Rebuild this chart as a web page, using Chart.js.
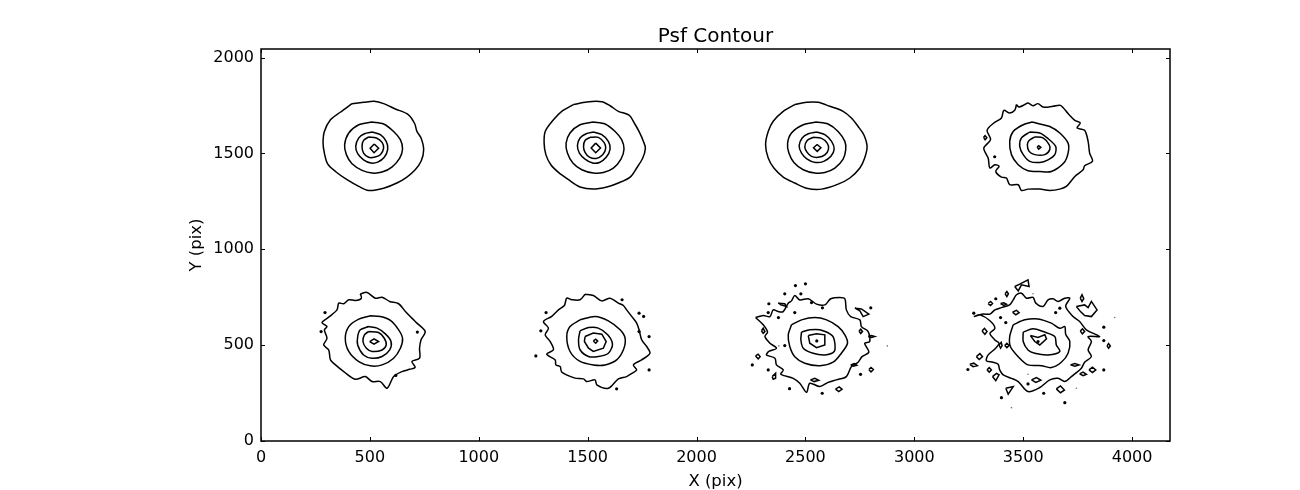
<!DOCTYPE html>
<html>
<head>
<meta charset="utf-8">
<title>Psf Contour</title>
<script src="https://cdn.jsdelivr.net/npm/chart.js@4/dist/chart.umd.min.js"></script>
<style>
  html, body { margin: 0; padding: 0; background: #fff; }
  canvas { display: block; }
</style>
</head>
<body>
<canvas id="myChart" width="1300" height="490"></canvas>
<script>
// axis ticks and limits
var xTicks = [0, 500, 1000, 1500, 2000, 2500, 3000, 3500, 4000];
var yTicks = [0, 500, 1000, 1500, 2000];
var xMax = 4174;
var yMax = 2045;

// contours, [x, y] in pix, one panel at a time
var p1a = [[418,1760],[472,1767],[520,1772],[563,1760],[617,1732],[676,1703],[706,1655],[716,1615],[735,1581],[747,1520],[735,1459],[708,1415],[670,1377],[624,1346],[563,1319],[494,1307],[449,1328],[395,1363],[342,1406],[306,1446],[291,1502],[285,1554],[291,1615],[319,1676],[364,1715]];
var p1b = [[510,1664],[563,1654],[609,1615],[640,1572],[650,1523],[637,1476],[601,1429],[556,1403],[510,1398],[464,1412],[418,1446],[392,1494],[384,1546],[403,1607],[449,1650]];
var p1c = [[510,1612],[548,1598],[575,1563],[582,1523],[566,1480],[536,1455],[505,1450],[471,1467],[444,1499],[435,1537],[449,1581],[475,1603]];
var p1d = [[494,1586],[530,1581],[556,1558],[563,1528],[548,1493],[520,1480],[494,1480],[471,1502],[464,1537],[471,1568]];
var p1e = [[520,1549],[540,1527],[519,1504],[501,1527]];

var p2a = [[1435,1755],[1496,1769],[1565,1770],[1603,1749],[1641,1720],[1690,1700],[1716,1655],[1738,1610],[1756,1563],[1765,1528],[1753,1476],[1725,1424],[1695,1377],[1641,1346],[1588,1325],[1526,1314],[1465,1325],[1412,1363],[1366,1401],[1331,1441],[1308,1494],[1300,1554],[1305,1615],[1343,1676],[1381,1720]];
var p2b = [[1526,1664],[1580,1654],[1626,1615],[1656,1572],[1667,1523],[1653,1471],[1618,1424],[1572,1401],[1526,1398],[1473,1415],[1432,1450],[1407,1502],[1401,1554],[1419,1607],[1465,1650]];
var p2c = [[1526,1612],[1565,1598],[1595,1563],[1603,1523],[1585,1480],[1554,1453],[1523,1450],[1488,1471],[1462,1502],[1453,1541],[1465,1581],[1493,1603]];
var p2d = [[1511,1584],[1549,1584],[1575,1558],[1583,1528],[1569,1493],[1539,1474],[1508,1481],[1488,1506],[1481,1537],[1488,1568]];
var p2e = [[1537,1554],[1559,1528],[1537,1504],[1516,1528]];

var p3a = [[2451,1755],[2505,1767],[2558,1767],[2612,1746],[2673,1720],[2711,1685],[2742,1641],[2768,1598],[2783,1537],[2772,1476],[2750,1424],[2704,1372],[2650,1340],[2574,1314],[2505,1319],[2451,1346],[2398,1377],[2355,1424],[2329,1476],[2317,1546],[2329,1615],[2352,1668],[2398,1720]];
var p3b = [[2551,1664],[2604,1654],[2650,1615],[2681,1563],[2685,1520],[2673,1471],[2635,1424],[2589,1401],[2543,1398],[2490,1415],[2447,1453],[2424,1502],[2418,1554],[2436,1607],[2490,1650]];
var p3c = [[2551,1612],[2589,1598],[2620,1563],[2632,1523],[2617,1485],[2584,1459],[2546,1453],[2508,1471],[2482,1502],[2471,1541],[2485,1581],[2513,1603]];
var p3d = [[2535,1584],[2574,1579],[2600,1554],[2606,1523],[2589,1493],[2558,1480],[2528,1485],[2508,1506],[2497,1534],[2508,1568]];
var p3e = [[2554,1547],[2571,1530],[2554,1511],[2537,1530]];

var p4a = [[3469,1755],[3481,1742],[3507,1755],[3522,1763],[3545,1749],[3568,1760],[3591,1742],[3637,1746],[3671,1751],[3706,1708],[3737,1673],[3762,1659],[3747,1633],[3782,1621],[3798,1563],[3805,1502],[3818,1459],[3782,1436],[3775,1415],[3737,1380],[3698,1328],[3668,1314],[3622,1307],[3576,1314],[3522,1314],[3492,1307],[3477,1337],[3438,1337],[3423,1372],[3400,1377],[3374,1406],[3389,1433],[3370,1441],[3347,1424],[3339,1476],[3319,1528],[3350,1572],[3334,1621],[3365,1659],[3400,1685],[3411,1725],[3438,1711],[3461,1725]];
var p4b = [[3542,1664],[3576,1654],[3622,1641],[3668,1607],[3706,1554],[3706,1502],[3686,1450],[3629,1406],[3576,1406],[3522,1410],[3477,1441],[3446,1494],[3438,1563],[3454,1615],[3500,1650]];
var p4c = [[3530,1612],[3576,1607],[3610,1581],[3649,1537],[3645,1494],[3614,1467],[3576,1453],[3530,1459],[3500,1494],[3484,1537],[3492,1581]];
var p4d = [[3553,1586],[3591,1581],[3619,1546],[3622,1520],[3599,1494],[3553,1494],[3527,1511],[3519,1546],[3527,1568]];
var p4e = [[3564,1534],[3571,1541],[3581,1532],[3571,1523]];
var p4f = [[3318,1584],[3325,1593],[3333,1582],[3325,1572]];

var p5a = [[456,768],[487,775],[525,745],[556,750],[591,728],[632,716],[663,676],[693,641],[716,615],[754,571],[735,528],[728,484],[728,432],[693,415],[708,385],[683,374],[647,362],[609,336],[579,275],[548,310],[510,310],[479,336],[433,322],[380,362],[342,397],[319,423],[311,475],[288,501],[303,536],[291,580],[303,597],[280,618],[311,646],[349,684],[357,719],[380,716],[403,737],[433,733],[461,745]];
var p5b = [[502,653],[548,649],[594,629],[632,580],[650,536],[640,484],[609,432],[556,397],[502,392],[449,414],[403,467],[387,536],[403,597],[449,636]];
var p5c = [[494,597],[533,589],[571,559],[597,519],[591,475],[556,441],[510,432],[471,449],[444,501],[444,545],[456,580]];
var p5d = [[494,571],[540,566],[566,536],[575,501],[556,475],[510,467],[484,484],[468,519],[475,554]];
var p5e = [[499,519],[519,533],[540,519],[519,505]];

var p6a = [[1488,766],[1526,759],[1565,731],[1603,745],[1641,719],[1664,707],[1679,684],[1702,650],[1725,615],[1736,580],[1748,528],[1771,493],[1786,458],[1748,423],[1710,397],[1725,371],[1705,354],[1679,336],[1641,324],[1595,275],[1542,293],[1534,319],[1496,310],[1481,324],[1442,328],[1381,359],[1374,388],[1354,397],[1351,423],[1312,453],[1343,476],[1328,519],[1305,554],[1320,589],[1297,623],[1335,650],[1366,684],[1393,707],[1404,745],[1427,737],[1465,737]];
var p6b = [[1465,632],[1534,650],[1595,627],[1649,580],[1672,536],[1664,476],[1633,423],[1580,397],[1526,397],[1465,415],[1419,467],[1404,545],[1419,597]];
var p6c = [[1465,575],[1504,592],[1549,589],[1592,554],[1614,505],[1595,458],[1549,441],[1504,441],[1465,476],[1458,528]];
var p6d = [[1488,545],[1526,563],[1565,557],[1585,519],[1572,484],[1526,467],[1504,484],[1485,519]];
var p6e = [[1526,522],[1537,531],[1546,521],[1537,510]];

var p7a = [[2271,644],[2306,655],[2337,649],[2352,684],[2375,675],[2398,675],[2421,719],[2436,731],[2451,759],[2474,736],[2513,742],[2551,714],[2589,710],[2616,742],[2658,749],[2681,742],[2688,684],[2708,649],[2750,632],[2757,597],[2788,571],[2795,519],[2772,510],[2791,463],[2760,440],[2742,411],[2711,388],[2688,336],[2642,319],[2604,306],[2566,284],[2520,301],[2505,254],[2474,301],[2444,327],[2387,348],[2398,371],[2367,397],[2360,432],[2321,449],[2332,467],[2367,484],[2337,510],[2314,545],[2326,568],[2306,606]];
var p7b = [[2436,606],[2482,632],[2543,644],[2597,632],[2650,597],[2681,554],[2693,510],[2665,458],[2627,411],[2566,393],[2497,406],[2451,440],[2428,493],[2421,554]];
var p7c = [[2482,568],[2520,580],[2566,580],[2623,550],[2635,510],[2632,467],[2589,449],[2535,458],[2490,484],[2479,528]];
var p7d = [[2513,550],[2551,559],[2589,554],[2589,501],[2551,487],[2520,510]];
var p7e = [[2727,693],[2757,689],[2791,662],[2765,649],[2750,679]];
var p7f = [[2375,719],[2405,716],[2413,702],[2387,710]];
var p7g = [[2298,575],[2306,588],[2314,571],[2306,562]];
var p7h = [[2271,444],[2283,453],[2292,440],[2283,428]];
var p7i = [[2347,336],[2363,353],[2363,327],[2352,322]];
var p7j = [[2523,319],[2543,327],[2561,317],[2540,310]];
var p7k = [[2638,271],[2655,282],[2668,270],[2653,258]];
var p7l = [[2708,397],[2724,404],[2736,395],[2720,390]];
var p7m = [[2791,373],[2801,383],[2812,373],[2801,360]];
var p7n = [[2746,574],[2754,583],[2762,571],[2754,561]];
var p7o = [[2788,545],[2803,550],[2818,545],[2803,540]];

var p8a = [[3273,649],[3316,662],[3347,662],[3370,684],[3400,696],[3438,710],[3454,736],[3469,763],[3492,771],[3515,745],[3545,749],[3558,719],[3591,702],[3614,736],[3637,742],[3660,728],[3691,745],[3714,745],[3695,702],[3729,649],[3759,623],[3790,580],[3851,545],[3798,545],[3813,519],[3798,475],[3813,440],[3782,411],[3767,380],[3721,336],[3691,310],[3660,327],[3622,319],[3576,279],[3522,258],[3477,310],[3446,327],[3408,345],[3392,371],[3385,400],[3362,411],[3331,418],[3339,449],[3370,480],[3389,510],[3370,527],[3347,562],[3370,588],[3347,627],[3301,658]];
var p8b = [[3454,606],[3507,632],[3568,637],[3629,615],[3668,588],[3691,597],[3695,557],[3714,519],[3706,458],[3675,411],[3629,383],[3584,393],[3522,397],[3477,440],[3441,493],[3438,545]];
var p8c = [[3500,568],[3545,585],[3591,571],[3645,545],[3652,501],[3668,467],[3614,449],[3553,458],[3522,475],[3500,519]];
var p8d = [[3533,550],[3568,540],[3599,554],[3607,533],[3576,501],[3553,519]];
var p8e = [[3461,806],[3484,818],[3522,841],[3527,806],[3492,815],[3477,783]];
var p8f = [[3744,702],[3782,710],[3798,696],[3813,728],[3839,684],[3813,649],[3782,655],[3763,675]];
var p8g = [[3762,745],[3770,763],[3778,742],[3770,728]];
var p8h = [[3339,717],[3350,728],[3359,717],[3350,707]];
var p8i = [[3396,717],[3411,721],[3423,714],[3411,707]];
var p8j = [[3417,768],[3425,780],[3432,768],[3425,754]];
var p8k = [[3451,672],[3469,682],[3481,670],[3466,658]];
var p8l = [[3311,574],[3322,588],[3334,571],[3324,557]];
var p8m = [[3389,501],[3399,515],[3403,498],[3396,484]];
var p8n = [[3415,498],[3425,510],[3435,498],[3425,487]];
var p8o = [[3285,440],[3301,456],[3313,440],[3298,425]];
var p8p = [[3255,400],[3273,406],[3289,393],[3270,388]];
var p8q = [[3334,371],[3344,383],[3354,371],[3344,359]];
var p8r = [[3359,336],[3377,353],[3389,345],[3374,315]];
var p8s = [[3420,275],[3454,284],[3431,244]];
var p8t = [[3538,319],[3561,331],[3581,317],[3558,306]];
var p8u = [[3652,272],[3671,287],[3689,266],[3671,252]];
var p8v = [[3717,397],[3737,404],[3756,397],[3737,390]];
var p8w = [[3759,350],[3775,359],[3790,348],[3775,341]];
var p8x = [[3802,371],[3818,385],[3833,371],[3818,357]];
var p8y = [[3762,574],[3772,585],[3782,571],[3772,559]];
var p8z = [[3885,496],[3892,508],[3900,496],[3892,484]];

// tiny closed levels, too small to show as anything but a dot
var specks = [[3369,1483],
  [294,670],[276,571],[718,568],[619,342],
  [1309,670],[1285,575],[1262,444],[1736,667],[1757,650],[1736,571],[1782,545],[1782,371],[1633,272],[1658,737],
  [2552,522],[2454,811],[2500,820],[2405,768],[2479,768],[2332,716],[2329,670],[2376,644],[2451,670],[2528,722],[2578,695],[2800,695],[2405,498],[2256,397],[2329,371],[2753,348],[2427,273],[2577,249],
  [3568,519],[3273,667],[3374,742],[3396,644],[3420,618],[3246,373],[3522,298],[3594,249],[3400,226],[3691,200],[3649,670],[3668,693],[3870,594],[3870,524],[3870,371]];
var faintSpecks = [[2378,496],[2876,496],[3545,768],[3920,644],[3446,174],[3744,275],[3522,348]];

var contours = [
  p1a, p1b, p1c, p1d, p1e,
  p2a, p2b, p2c, p2d, p2e,
  p3a, p3b, p3c, p3d, p3e,
  p4a, p4b, p4c, p4d, p4e, p4f,
  p5a, p5b, p5c, p5d, p5e,
  p6a, p6b, p6c, p6d, p6e,
  p7a, p7b, p7c, p7d, p7e, p7f, p7g, p7h, p7i, p7j, p7k, p7l, p7m, p7n, p7o,
  p8a, p8b, p8c, p8d, p8e, p8f, p8g, p8h, p8i, p8j, p8k, p8l, p8m, p8n, p8o, p8p, p8q, p8r, p8s, p8t, p8u, p8v, p8w, p8x, p8y, p8z
];

function toPoints(list) {
  return list.map(function (p) { return { x: p[0], y: p[1] }; });
}

var datasets = contours.map(function (c) {
  return {
    data: toPoints(c.concat([c[0]])),
    showLine: true,
    borderColor: "#000",
    borderWidth: 1.5,
    pointRadius: 0,
    // the long rings are rounder than their few read points, small loops are not
    tension: c.length > 8 ? 0.3 : 0,
  };
});
datasets.push({ data: toPoints(specks), showLine: false, pointRadius: 1.6, pointBorderWidth: 0, pointBackgroundColor: "#000" });
datasets.push({ data: toPoints(faintSpecks), showLine: false, pointRadius: 0.8, pointBorderWidth: 0, pointBackgroundColor: "#777" });

// matplotlib style frame, ticks point inward on all four sides
var frame = {
  id: "frame",
  afterLayout: function (chart) {
    // title sits over the plot, not over the whole canvas
    chart.titleBlock.left = chart.chartArea.left;
    chart.titleBlock.right = chart.chartArea.right;
  },
  afterDraw: function (chart) {
    var c = chart.ctx, a = chart.chartArea, x = chart.scales.x, y = chart.scales.y;
    c.save();
    c.strokeStyle = "#000";
    c.lineWidth = 1;
    c.beginPath();
    xTicks.forEach(function (v) {
      var px = Math.round(x.getPixelForValue(v)) + 0.5;
      c.moveTo(px, a.bottom); c.lineTo(px, a.bottom - 4);
      c.moveTo(px, a.top); c.lineTo(px, a.top + 4);
    });
    yTicks.forEach(function (v) {
      var py = Math.round(y.getPixelForValue(v)) + 0.5;
      c.moveTo(a.left, py); c.lineTo(a.left + 4, py);
      c.moveTo(a.right, py); c.lineTo(a.right - 4, py);
    });
    c.stroke();
    c.lineWidth = 1.5;
    c.strokeRect(a.left, a.top, a.right - a.left, a.bottom - a.top);
    c.restore();
  },
};

Chart.defaults.font.family = "'DejaVu Sans'";
Chart.defaults.color = "#000";

function plainTick(v) { return String(v); }

var ctx = document.getElementById("myChart").getContext("2d");
var myChart = new Chart(ctx, {
  type: "scatter",
  data: { datasets: datasets },
  plugins: [frame],
  options: {
    responsive: false,
    animation: false,
    layout: { padding: { left: 0, right: 130, top: 0, bottom: 0 } },
    plugins: {
      legend: { display: false },
      tooltip: { enabled: false },
      title: {
        display: true,
        text: "Psf Contour",
        font: { size: 20, weight: "normal" },
        color: "#000",
        padding: { top: 25, bottom: 0 },
      },
    },
    scales: {
      x: {
        type: "linear",
        min: 0,
        max: xMax,
        grid: { display: false, tickLength: 0 },
        border: { display: false },
        afterBuildTicks: function (s) { s.ticks = xTicks.map(function (v) { return { value: v }; }); },
        afterFit: function (s) { s.height = 49; },
        ticks: { font: { size: 16 }, maxRotation: 0, autoSkip: false, padding: 7, callback: plainTick },
        title: { display: true, text: "X (pix)", font: { size: 16.5 }, padding: { top: 0, bottom: -2 } },
      },
      y: {
        type: "linear",
        min: 0,
        max: yMax,
        grid: { display: false, tickLength: 0 },
        border: { display: false },
        afterBuildTicks: function (s) { s.ticks = yTicks.map(function (v) { return { value: v }; }); },
        afterFit: function (s) { s.width = 261; },
        ticks: { font: { size: 16 }, autoSkip: false, padding: 7, callback: plainTick },
        title: { display: true, text: "Y (pix)", font: { size: 16.5 }, padding: { top: 187, bottom: 0 } },
      },
    },
  },
});
</script>
</body>
</html>
